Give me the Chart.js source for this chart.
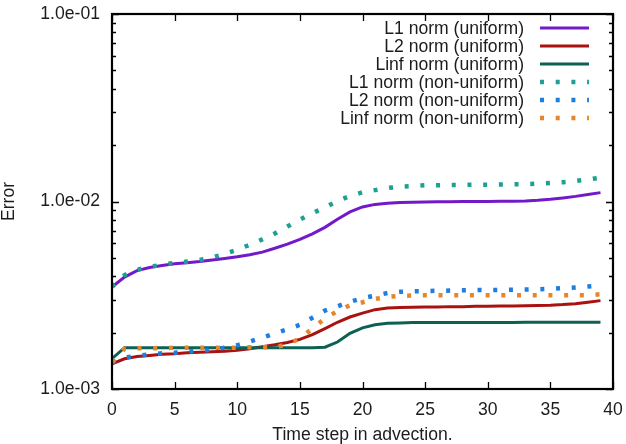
<!DOCTYPE html>
<html>
<head>
<meta charset="utf-8">
<script src="https://cdn.jsdelivr.net/npm/chart.js@4.4.1/dist/chart.umd.min.js"></script>
<style>
html,body{margin:0;padding:0;background:#fff;}
#c{display:block;}
</style>
</head>
<body>
<canvas id="c" width="626" height="444"></canvas>
<script>
const steps = [0,1,2,3,4,5,6,7,8,9,10,11,12,13,14,15,16,17,18,19,20,21,22,23,24,25,26,27,28,29,30,31,32,33,34,35,36,37,38,39];

const l1Uniform = [0.00350,0.00395,0.00428,0.00445,0.00456,0.00465,0.00472,0.00478,0.00487,0.00497,
  0.00507,0.00520,0.00537,0.00563,0.00593,0.00628,0.00672,0.00728,0.00805,0.00880,
  0.00935,0.00965,0.00980,0.00988,0.00992,0.00995,0.00997,0.00998,0.00999,0.01000,
  0.01000,0.01002,0.01004,0.01007,0.01015,0.01028,0.01045,0.01065,0.01090,0.01115];
const l2Uniform = [0.00136,0.00145,0.00149,0.00151,0.00153,0.00154,0.00156,0.00157,0.00158,0.00159,
  0.00161,0.00164,0.00168,0.00172,0.00177,0.00184,0.00195,0.00210,0.00227,0.00242,
  0.00254,0.00265,0.00270,0.00272,0.00273,0.00274,0.00274,0.00275,0.00275,0.00276,
  0.00276,0.00277,0.00277,0.00278,0.00279,0.00280,0.00282,0.00285,0.00290,0.00296];
const linfUniform = [0.00145,0.00166,0.00166,0.00166,0.00166,0.00166,0.00166,0.00166,0.00166,0.00166,
  0.00166,0.00166,0.00166,0.00166,0.00166,0.00166,0.00166,0.00167,0.00178,0.00198,
  0.00212,0.00220,0.00224,0.00225,0.00226,0.00226,0.00226,0.00226,0.00226,0.00226,
  0.00226,0.00226,0.00226,0.00227,0.00227,0.00227,0.00227,0.00227,0.00227,0.00227];
const l1NonUniform = [0.00350,0.00405,0.00432,0.00448,0.00460,0.00470,0.00478,0.00488,0.00503,0.00525,
  0.00553,0.00588,0.00628,0.00675,0.00735,0.00800,0.00865,0.00930,0.01005,0.01070,
  0.01120,0.01150,0.01180,0.01200,0.01210,0.01220,0.01222,0.01224,0.01226,0.01228,
  0.01230,0.01232,0.01235,0.01238,0.01245,0.01255,0.01268,0.01285,0.01310,0.01340];
const l2NonUniform = [0.00139,0.00147,0.00150,0.00153,0.00155,0.00156,0.00158,0.00160,0.00162,0.00166,
  0.00171,0.00179,0.00188,0.00198,0.00208,0.00220,0.00240,0.00262,0.00276,0.00292,
  0.00305,0.00315,0.00325,0.00330,0.00332,0.00333,0.00334,0.00335,0.00336,0.00337,
  0.00337,0.00338,0.00338,0.00339,0.00340,0.00342,0.00345,0.00348,0.00352,0.00356];
const linfNonUniform = [0.00139,0.00164,0.00165,0.00165,0.00165,0.00166,0.00166,0.00166,0.00166,0.00166,
  0.00166,0.00167,0.00167,0.00167,0.00173,0.00186,0.00210,0.00238,0.00260,0.00280,
  0.00290,0.00302,0.00310,0.00314,0.00315,0.00316,0.00316,0.00316,0.00316,0.00316,
  0.00316,0.00316,0.00316,0.00316,0.00316,0.00316,0.00316,0.00316,0.00316,0.00320];

const seriesLabels = ['L1 norm (uniform)','L2 norm (uniform)','Linf norm (uniform)',
  'L1 norm (non-uniform)','L2 norm (non-uniform)','Linf norm (non-uniform)'];
const seriesValues = [l1Uniform,l2Uniform,linfUniform,l1NonUniform,l2NonUniform,linfNonUniform];
const seriesColors = ['#7219c9','#a8120f','#0d6153','#1f9f94','#1f7de0','#e6862a'];
const seriesDotted = [false,false,false,true,true,true];
const xTickValues = [0,5,10,15,20,25,30,35,40];
const yDecades = [0.001,0.01,0.1];

const FONT = "'Liberation Sans', Arial, sans-serif";
const FS = 17.6;
const TEXT = '#1c1c1c';

const datasets = seriesLabels.map((lab,i)=>({
  label: lab,
  data: steps.map((s,k)=>({x:s,y:seriesValues[i][k]})),
  borderColor: seriesColors[i],
  backgroundColor: seriesColors[i],
  borderWidth: seriesDotted[i] ? 4.5 : 3,
  borderDash: seriesDotted[i] ? [4,11.7] : [],
  borderCapStyle: 'butt',
  pointRadius: 0,
  tension: 0,
  order: 6 - i
}));

function zeroPad(scale){
  scale.paddingTop = 0; scale.paddingBottom = 0;
  scale.paddingLeft = 0; scale.paddingRight = 0;
}

const framePlugin = {
  id: 'frame',
  afterDatasetsDraw(chart){
    const {ctx, chartArea:a, scales} = chart;
    ctx.save();
    ctx.strokeStyle = '#000';
    ctx.lineWidth = 1.3;
    ctx.setLineDash([]);
    xTickValues.forEach(v=>{
      const px = Math.round(scales.x.getPixelForValue(v))+0.5;
      ctx.beginPath();
      ctx.moveTo(px,a.bottom); ctx.lineTo(px,a.bottom-7);
      ctx.moveTo(px,a.top); ctx.lineTo(px,a.top+7);
      ctx.stroke();
    });
    yDecades.forEach(d=>{
      for(let m=1;m<=9;m++){
        const v = m*d;
        if (v > 0.1000001) continue;
        const py = Math.round(scales.y.getPixelForValue(v))+0.5;
        const len = m===1 ? 7 : 4;
        ctx.beginPath();
        ctx.moveTo(a.left,py); ctx.lineTo(a.left+len,py);
        ctx.moveTo(a.right,py); ctx.lineTo(a.right-len,py);
        ctx.stroke();
      }
    });
    ctx.lineWidth = 2.2;
    ctx.strokeRect(a.left, a.top, a.right-a.left, a.bottom-a.top);
    ctx.font = FS + 'px ' + FONT;
    ctx.textAlign = 'right';
    ctx.textBaseline = 'middle';
    chart.data.datasets.forEach((ds,i)=>{
      const y = 28 + 18*i;
      ctx.fillStyle = TEXT;
      ctx.fillText(ds.label, 524, y+1);
      ctx.save();
      ctx.strokeStyle = ds.borderColor;
      ctx.lineWidth = ds.borderWidth;
      ctx.lineCap = 'butt';
      ctx.setLineDash(ds.borderDash);
      ctx.beginPath();
      ctx.moveTo(540,y); ctx.lineTo(589,y);
      ctx.stroke();
      ctx.restore();
    });
    ctx.restore();
  }
};

new Chart(document.getElementById('c'), {
  type: 'line',
  data: { datasets },
  options: {
    responsive: false,
    animation: false,
    devicePixelRatio: 1,
    layout: { padding: { top: 14, right: 13, left: 0, bottom: 0 } },
    plugins: { legend: { display: false }, tooltip: { enabled: false } },
    scales: {
      x: {
        type: 'linear', min: 0, max: 40,
        grid: { display: false, drawTicks: false },
        border: { display: false },
        ticks: { stepSize: 5, color: TEXT, font: { family: FONT, size: FS }, padding: 11, maxRotation: 0, autoSkip: false },
        title: { display: true, text: 'Time step in advection.', color: TEXT, font: { family: FONT, size: FS, lineHeight: 1 }, padding: 0 },
        afterFit(scale){ scale.height = 55; zeroPad(scale); }
      },
      y: {
        type: 'logarithmic', min: 0.001, max: 0.1,
        grid: { display: false, drawTicks: false },
        border: { display: false },
        ticks: {
          color: TEXT, font: { family: FONT, size: FS }, padding: 12, autoSkip: false,
          callback(v){
            const l = Math.log10(v);
            if (Math.abs(l - Math.round(l)) > 1e-6) return '';
            return Number(v).toExponential(1).replace(/e([+-])(\d)$/, 'e$10$2');
          }
        },
        title: { display: true, text: 'Error', color: TEXT, font: { family: FONT, size: FS, lineHeight: 1 }, padding: 0 },
        afterFit(scale){ scale.width = 112; zeroPad(scale); }
      }
    }
  },
  plugins: [framePlugin]
});
</script>
</body>
</html>
